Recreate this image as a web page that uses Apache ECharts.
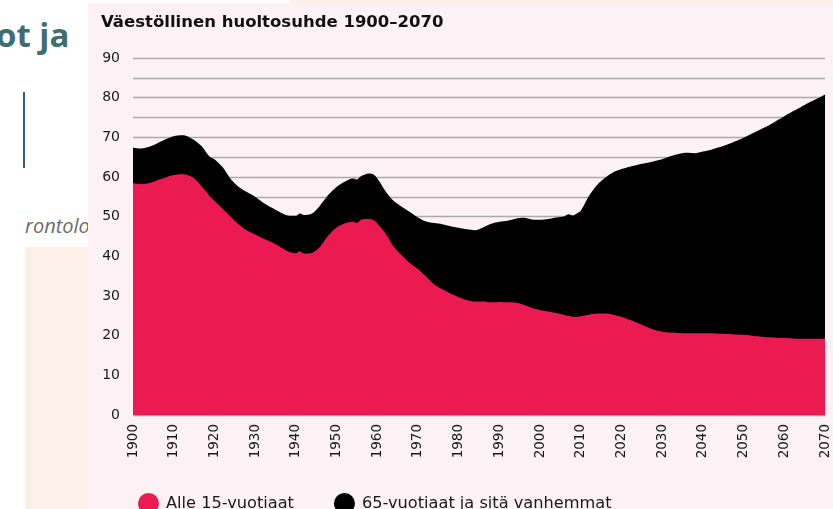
<!DOCTYPE html>
<html>
<head>
<meta charset="utf-8">
<script src="https://cdn.jsdelivr.net/npm/echarts@6/dist/echarts.min.js"></script>
<style>
  html, body { margin: 0; padding: 0; background: #ffffff; }
  #page { position: relative; width: 833px; height: 509px; overflow: hidden; background: #ffffff; }
  .heading { position: absolute; left: -4px; top: 12px; font: bold 33px "Open Sans", sans-serif; color: #3f6d70; }
  .bar { position: absolute; left: 23px; top: 92px; width: 2px; height: 76px; background: #2c5d8c; }
  .crumb { position: absolute; left: 25px; top: 212px; font: italic 20px "Open Sans", sans-serif; color: #6b6b6b; }
  .peach { position: absolute; left: 25px; top: 247px; width: 70px; height: 262px; background: #fdf0e7; }
  .peachTop { position: absolute; left: 290px; top: 0; width: 543px; height: 4px; background: #fdf0e7; }
  .panel { position: absolute; left: 88px; top: 3px; width: 745px; height: 506px; background: #fcf1f4; }
  #chart { position: absolute; left: 0; top: 0; width: 833px; height: 509px; }
</style>
</head>
<body>
<div id="page">
  <div class="heading">ot ja</div>
  <div class="bar"></div>
  <div class="crumb">rontolo</div>
  <div class="peach"></div>
  <div class="peachTop"></div>
  <div class="panel"></div>
  <div id="chart"></div>
</div>
<script>
  // vuodet ja arvot luettu kuvasta
  var years = [1900, 1902, 1904, 1906, 1908, 1910, 1912, 1913, 1915, 1917, 1918, 1919, 1920, 1922, 1924, 1926, 1928, 1930,
    1932, 1934, 1936, 1938, 1940, 1941, 1942, 1944, 1946, 1948, 1950, 1952, 1954, 1955, 1956, 1958, 1959, 1960,
    1962, 1964, 1966, 1968, 1970, 1972, 1974, 1976, 1978, 1980, 1982, 1984, 1986, 1988, 1990, 1992, 1994, 1996,
    1998, 2000, 2002, 2004, 2006, 2007, 2008, 2009, 2010, 2012, 2014, 2016, 2018, 2020, 2022, 2024, 2026, 2028,
    2030, 2032, 2034, 2036, 2038, 2040, 2042, 2044, 2046, 2048, 2050, 2052, 2054, 2056, 2058, 2060, 2062, 2064,
    2066, 2068, 2070];

  // alle 15-vuotiaat
  var under15 = [58.4, 58.2, 58.5, 59.2, 59.9, 60.5, 60.7, 60.6, 59.7, 57.5, 56.3, 55.0, 54.0, 52.0, 50.0, 48.0, 46.5, 45.5,
    44.5, 43.6, 42.5, 41.3, 40.8, 41.3, 40.7, 40.9, 42.5, 45.3, 47.3, 48.3, 48.7, 48.4, 49.2, 49.4, 49.2, 48.3,
    45.8, 42.5, 40.3, 38.3, 36.8, 34.9, 32.9, 31.7, 30.6, 29.7, 29.0, 28.6, 28.6, 28.4, 28.5, 28.4, 28.3, 27.8,
    27.0, 26.5, 26.1, 25.7, 25.2, 25.0, 24.8, 24.8, 24.9, 25.3, 25.6, 25.6, 25.3, 24.8, 24.0, 23.2, 22.3, 21.5,
    21.0, 20.8, 20.7, 20.6, 20.6, 20.6, 20.6, 20.5, 20.4, 20.3, 20.2, 20.0, 19.8, 19.6, 19.5, 19.4, 19.3, 19.2,
    19.2, 19.2, 19.3];

  // 65-vuotiaat ja sitä vanhemmat
  var over65 = [9.0, 9.0, 9.1, 9.3, 9.6, 9.8, 9.8, 9.8, 9.6, 10.1, 9.9, 10.0, 10.5, 10.5, 9.5, 9.5, 9.7, 9.5,
    9.0, 8.7, 8.7, 9.0, 9.4, 9.5, 9.7, 9.9, 10.4, 10.2, 10.2, 10.5, 10.9, 11.0, 11.0, 11.5, 11.5, 11.4,
    10.7, 11.5, 12.2, 12.9, 13.0, 13.9, 15.5, 16.4, 17.0, 17.5, 17.8, 18.0, 18.7, 19.8, 20.2, 20.6, 21.2, 21.9,
    22.3, 22.7, 23.3, 24.1, 24.9, 25.6, 25.5, 26.0, 26.6, 29.9, 32.4, 34.2, 35.9, 37.2, 38.6, 39.9, 41.2, 42.5,
    43.5, 44.4, 45.1, 45.5, 45.4, 45.8, 46.3, 47.0, 47.8, 48.7, 49.7, 50.9, 52.1, 53.3, 54.6, 55.9, 57.2, 58.4,
    59.5, 60.5, 61.5];

  var seriesNames = ['Alle 15-vuotiaat', '65-vuotiaat ja sitä vanhemmat'];
  var titleText = 'Väestöllinen huoltosuhde 1900–2070';

  // pinotaan käsin: musta alue piirretään summaan asti, punainen sen päälle
  var lowerPts = [];
  var stackedPts = [];
  for (var i = 0; i < years.length; i++) {
    lowerPts.push([years[i], under15[i]]);
    stackedPts.push([years[i], +(under15[i] + over65[i]).toFixed(1)]);
  }

  var font = '"DejaVu Sans", Inter, sans-serif';
  var chart = echarts.init(document.getElementById('chart'), null, { renderer: 'canvas' });

  chart.setOption({
    backgroundColor: 'transparent',
    animation: false,
    title: {
      text: titleText,
      left: 96,
      top: 9,
      textStyle: { fontFamily: font, fontSize: 16.5, fontWeight: 'bold', color: '#111111' }
    },
    legend: {
      left: 133,
      top: 488,
      itemWidth: 21,
      itemHeight: 21,
      itemGap: 40,
      icon: 'circle',
      textStyle: { fontFamily: font, fontSize: 16.2, color: '#1a1a1a', padding: [0, 0, 0, 2] },
      data: [
        { name: seriesNames[0], itemStyle: { color: '#eb1a50' } },
        { name: seriesNames[1], itemStyle: { color: '#000000' } }
      ]
    },
    grid: {
      left: 133,
      right: 8,
      top: 58,
      bottom: 94
    },
    xAxis: {
      type: 'value',
      min: 1900,
      max: 2070,
      interval: 10,
      axisLine: { show: false },
      axisTick: { show: false },
      splitLine: { show: false },
      axisLabel: {
        rotate: 90,
        margin: 9,
        fontFamily: font,
        fontSize: 13.5,
        color: '#1a1a1a',
        showMaxLabel: true,
        formatter: function (v) { return String(v); }
      }
    },
    yAxis: {
      type: 'value',
      min: 0,
      max: 90,
      interval: 5,
      axisLine: { show: false },
      axisTick: { show: false },
      splitLine: { lineStyle: { color: '#adaaac', width: 1.3 } },
      axisLabel: {
        margin: 13,
        fontFamily: font,
        fontSize: 14,
        color: '#1a1a1a',
        formatter: function (v) { return v % 10 === 0 ? String(v) : ''; }
      }
    },
    series: [
      {
        name: seriesNames[1],
        type: 'line',
        smooth: 0.3,
        symbol: 'none',
        z: 2,
        lineStyle: { width: 0 },
        itemStyle: { color: '#000000' },
        areaStyle: { color: '#000000', opacity: 1 },
        data: stackedPts
      },
      {
        name: seriesNames[0],
        type: 'line',
        smooth: 0.3,
        symbol: 'none',
        z: 3,
        lineStyle: { width: 0 },
        itemStyle: { color: '#eb1a50' },
        areaStyle: { color: '#eb1a50', opacity: 1 },
        data: lowerPts
      }
    ]
  });
</script>
</body>
</html>
